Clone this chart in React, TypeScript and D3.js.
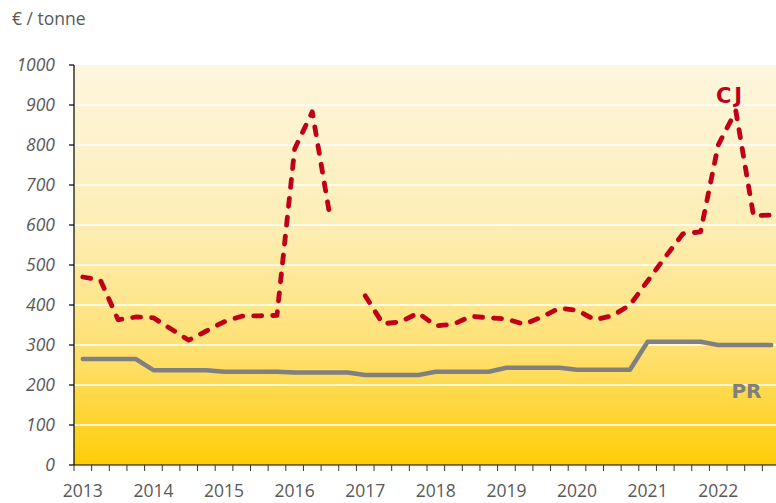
import React from "react";
import * as d3 from "d3";

const years = ["2013", "2014", "2015", "2016", "2017", "2018", "2019", "2020", "2021", "2022"];
const quarters = ["Q1", "Q2", "Q3", "Q4"];
const categories = years.flatMap((y) => quarters.map((q) => `${y} ${q}`));

const cjValues: (number | null)[] = [
  470, 462, 363, 370, 368, 340, 312, 335, 358, 372,
  373, 374, 790, 883, 622, null, 423, 353, 358, 380,
  348, 352, 372, 368, 365, 352, 370, 392, 387, 363,
  373, 400, 460, 520, 578, 583, 800, 885, 623, 625,
];
const prValues: number[] = [
  265, 265, 265, 265, 237, 237, 237, 237, 233, 233,
  233, 233, 231, 231, 231, 231, 225, 225, 225, 225,
  233, 233, 233, 233, 243, 243, 243, 243, 238, 238,
  238, 238, 308, 308, 308, 308, 300, 300, 300, 300,
];
const yTicks = [0, 100, 200, 300, 400, 500, 600, 700, 800, 900, 1000];

const W = 776;
const H = 503;
const left = 74;
const right = 780;
const top = 65;
const bottom = 465;

export default function App() {
  const x = d3.scaleBand<string>().domain(categories).range([left, right]).padding(0);
  const y = d3.scaleLinear().domain([0, 1000]).range([bottom, top]);
  const cx = (i: number) => (x(categories[i]) as number) + x.bandwidth() / 2;
  const fx = (f: number) => left + x.bandwidth() * (f + 0.5);

  const cjLine = d3
    .line<number | null>()
    .defined((d) => d != null)
    .x((_, i) => cx(i))
    .y((d) => y(d as number));
  const prLine = d3
    .line<number>()
    .x((_, i) => cx(i))
    .y((d) => y(d));

  const textColor = "#595959";
  const font = "'Open Sans', 'Liberation Sans', sans-serif";

  return (
    <svg
      width={W}
      height={H}
      style={{ position: "absolute", left: 0, top: 0, background: "#ffffff" }}
    >
      <defs>
        <linearGradient id="bg" x1="0" y1="0" x2="0" y2="1">
          <stop offset="0" stopColor="#FEF6DF" />
          <stop offset="0.4" stopColor="#FDEEB6" />
          <stop offset="0.72" stopColor="#FEE070" />
          <stop offset="1" stopColor="#FFCC08" />
        </linearGradient>
      </defs>
      <text x={12} y={25} fontFamily={font} fontSize={17.5} fill={textColor}>
        € / tonne
      </text>
      <rect x={left} y={top} width={right - left} height={bottom - top} fill="url(#bg)" />
      {yTicks
        .filter((t) => t > 0 && t < 1000)
        .map((t) => (
          <line key={"g" + t} x1={left} x2={right} y1={y(t)} y2={y(t)} stroke="#ffffff" strokeWidth={1.5} />
        ))}
      {/* y axis */}
      <line x1={left} x2={left} y1={top} y2={bottom} stroke="#000" strokeWidth={1.2} />
      {yTicks.map((t) => (
        <g key={"y" + t}>
          <line x1={left - 5} x2={left} y1={y(t)} y2={y(t)} stroke="#000" strokeWidth={1.2} />
          <text
            x={55}
            y={y(t) + 6}
            textAnchor="end"
            fontFamily={font}
            fontStyle="italic"
            fontSize={17.5}
            fill={textColor}
          >
            {t}
          </text>
        </g>
      ))}
      {/* x axis */}
      <line x1={left} x2={right} y1={bottom} y2={bottom} stroke="#000" strokeWidth={1.2} />
      {categories.map((c) => (
        <line
          key={"t" + c}
          x1={x(c) as number}
          x2={x(c) as number}
          y1={bottom}
          y2={bottom + 6}
          stroke="#333"
          strokeWidth={1}
        />
      ))}
      {years.map((yr) => {
        const c = `${yr} Q1`;
        return (
          <text
            key={"x" + yr}
            x={(x(c) as number) + x.bandwidth() / 2}
            y={497}
            textAnchor="middle"
            fontFamily={font}
            fontSize={17.5}
            fill={textColor}
          >
            {yr}
          </text>
        );
      })}
      <path
        d={prLine(prValues) || ""}
        fill="none"
        stroke="#808080"
        strokeWidth={4.5}
        strokeLinejoin="round"
        strokeLinecap="round"
      />
      <path
        d={cjLine(cjValues) || ""}
        fill="none"
        stroke="#C00018"
        strokeWidth={4.8}
        strokeDasharray="8 11"
        strokeLinejoin="round"
        strokeLinecap="round"
      />
      <text
        x={fx(36.7)}
        y={y(925) + 8}
        textAnchor="middle"
        fontFamily="DejaVu Sans, sans-serif"
        fontWeight={700}
        fontSize={21}
        letterSpacing={3}
        fill="#C00018"
      >
        CJ
      </text>
      <text
        x={fx(37.6)}
        y={y(187) + 8}
        textAnchor="middle"
        fontFamily="DejaVu Sans, sans-serif"
        fontWeight={700}
        fontSize={20}
        fill="#7F7F7F"
      >
        PR
      </text>
    </svg>
  );
}
